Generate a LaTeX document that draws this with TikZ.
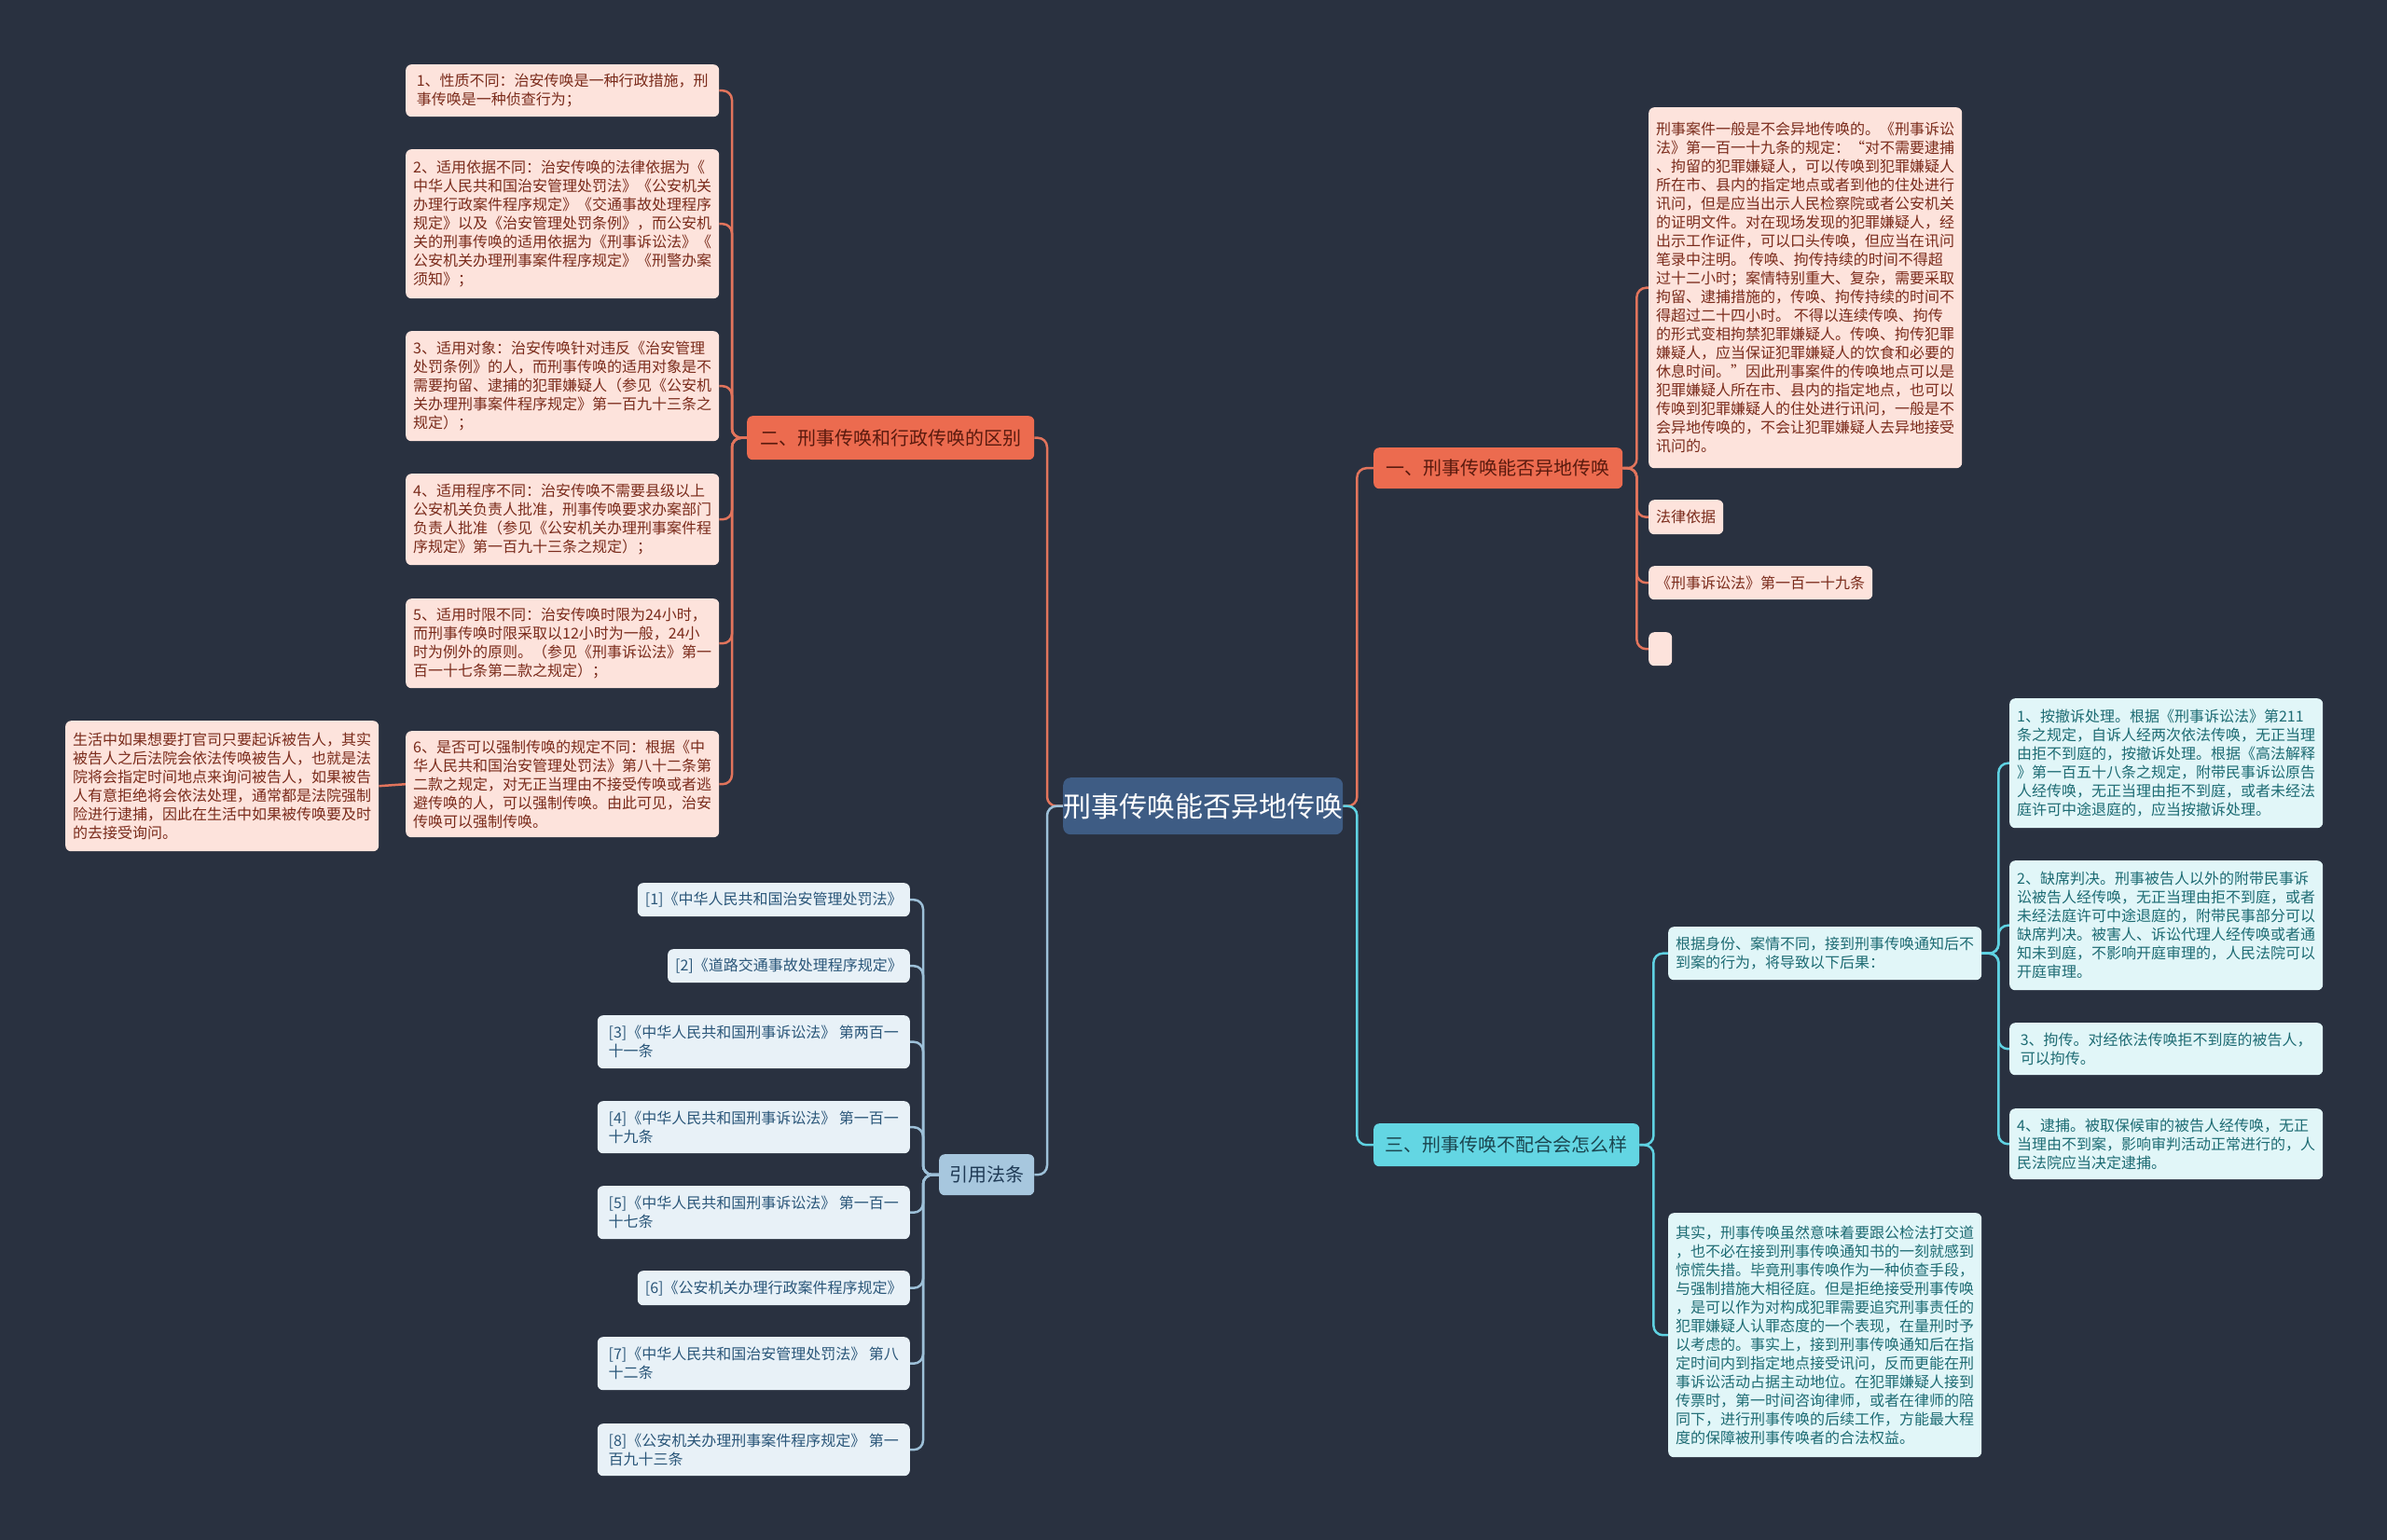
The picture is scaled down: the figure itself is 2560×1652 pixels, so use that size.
\documentclass[tikz,border=0pt]{standalone}
\usepackage{fontspec}
\setmainfont{Noto Sans CJK SC}
\usetikzlibrary{backgrounds}
\definecolor{bg}{HTML}{293140}
\definecolor{orangeB}{HTML}{EC6B4F}
\definecolor{orangeL}{HTML}{E2745C}
\definecolor{pinkF}{HTML}{FDE3DC}
\definecolor{pinkT}{HTML}{7A2B1B}
\definecolor{orangeT}{HTML}{5A1A0E}
\definecolor{cyanB}{HTML}{63D6E3}
\definecolor{cyanL}{HTML}{5FD2E2}
\definecolor{cyanF}{HTML}{E1F6F8}
\definecolor{cyanT}{HTML}{1D6B73}
\definecolor{cyanBT}{HTML}{1B4650}
\definecolor{refB}{HTML}{A7C7DE}
\definecolor{refL}{HTML}{9DC0D8}
\definecolor{refF}{HTML}{E8F1F7}
\definecolor{refT}{HTML}{2A5679}
\definecolor{refBT}{HTML}{1F3A55}
\definecolor{rootF}{HTML}{3E5C84}
\tikzset{
  box/.style={rounded corners=6pt, inner xsep=8pt, inner ysep=0pt, align=left,
    font=\fontsize{16}{20}\selectfont},
  pinkleaf/.style={box, fill=pinkF, text=pinkT},
  cyanleaf/.style={box, fill=cyanF, text=cyanT},
  refleaf/.style={box, fill=refF, text=refT},
  branch/.style={rounded corners=6pt, inner xsep=10pt, inner ysep=0pt,
    font=\fontsize{20}{24}\selectfont},
  rootbox/.style={rounded corners=8pt, fill=rootF, text=white, inner sep=0pt,
    font=\fontsize{30}{34}\selectfont},
  conn/.style={line width=2.5pt, rounded corners=10pt},
  oline/.style={conn, draw=orangeL},
  cline/.style={conn, draw=cyanL},
  rline/.style={conn, draw=refL},
}
\begin{document}
\begin{tikzpicture}[x=1pt,y=-1pt]
\begin{scope}[on background layer]
\fill[bg] (0,0) rectangle (2560,1652);
\end{scope}
\useasboundingbox (0,0) rectangle (2560,1652);

% root
\node[rootbox, anchor=north west, minimum width=300pt, minimum height=61pt] (root) at (1140,834) {刑事传唤能否异地传唤};

% branches
\node[branch, fill=orangeB, text=orangeT, anchor=north west, minimum width=308pt, minimum height=47pt] (b2) at (801,446) {二、刑事传唤和行政传唤的区别};
\node[branch, fill=orangeB, text=orangeT, anchor=north west, minimum width=267pt, minimum height=44pt] (b1) at (1473,480) {一、刑事传唤能否异地传唤};
\node[branch, fill=cyanB, text=cyanBT, anchor=north west, minimum width=285pt, minimum height=46pt] (b3) at (1473,1205) {三、刑事传唤不配合会怎么样};
\node[branch, fill=refB, text=refBT, anchor=north west, minimum width=102pt, minimum height=44pt] (b4) at (1007,1238) {引用法条};

% branch 2 leaves
\node[pinkleaf, anchor=north west, minimum width=336pt, minimum height=56pt] (c1) at (435,69) {1、性质不同：治安传唤是一种行政措施，刑\\事传唤是一种侦查行为；};
\node[pinkleaf, anchor=north west, minimum width=336pt, minimum height=160pt] (c2) at (435,160) {2、适用依据不同：治安传唤的法律依据为《\\中华人民共和国治安管理处罚法》《公安机关\\办理行政案件程序规定》《交通事故处理程序\\规定》以及《治安管理处罚条例》，而公安机\\关的刑事传唤的适用依据为《刑事诉讼法》《\\公安机关办理刑事案件程序规定》《刑警办案\\须知》；};
\node[pinkleaf, anchor=north west, minimum width=336pt, minimum height=118pt] (c3) at (435,355) {3、适用对象：治安传唤针对违反《治安管理\\处罚条例》的人，而刑事传唤的适用对象是不\\需要拘留、逮捕的犯罪嫌疑人（参见《公安机\\关办理刑事案件程序规定》第一百九十三条之\\规定）；};
\node[pinkleaf, anchor=north west, minimum width=336pt, minimum height=98pt] (c4) at (435,508) {4、适用程序不同：治安传唤不需要县级以上\\公安机关负责人批准，刑事传唤要求办案部门\\负责人批准（参见《公安机关办理刑事案件程\\序规定》第一百九十三条之规定）；};
\node[pinkleaf, anchor=north west, minimum width=336pt, minimum height=96pt] (c5) at (435,642) {5、适用时限不同：治安传唤时限为24小时，\\而刑事传唤时限采取以12小时为一般，24小\\时为例外的原则。（参见《刑事诉讼法》第一\\百一十七条第二款之规定）；};
\node[pinkleaf, anchor=north west, minimum width=336pt, minimum height=114pt] (c6) at (435,784) {6、是否可以强制传唤的规定不同：根据《中\\华人民共和国治安管理处罚法》第八十二条第\\二款之规定，对无正当理由不接受传唤或者逃\\避传唤的人，可以强制传唤。由此可见，治安\\传唤可以强制传唤。};
\node[pinkleaf, anchor=north west, minimum width=333pt, minimum height=140pt] (life) at (70,773) {生活中如果想要打官司只要起诉被告人，其实\\被告人之后法院会依法传唤被告人，也就是法\\院将会指定时间地点来询问被告人，如果被告\\人有意拒绝将会依法处理，通常都是法院强制\\险进行逮捕，因此在生活中如果被传唤要及时\\的去接受询问。};

% branch 1 leaves
\node[pinkleaf, anchor=north west, minimum width=336pt, minimum height=387pt] (big) at (1768,115) {刑事案件一般是不会异地传唤的。《刑事诉讼\\法》第一百一十九条的规定：“对不需要逮捕\\、拘留的犯罪嫌疑人，可以传唤到犯罪嫌疑人\\所在市、县内的指定地点或者到他的住处进行\\讯问，但是应当出示人民检察院或者公安机关\\的证明文件。对在现场发现的犯罪嫌疑人，经\\出示工作证件，可以口头传唤，但应当在讯问\\笔录中注明。 传唤、拘传持续的时间不得超\\过十二小时；案情特别重大、复杂，需要采取\\拘留、逮捕措施的，传唤、拘传持续的时间不\\得超过二十四小时。 不得以连续传唤、拘传\\的形式变相拘禁犯罪嫌疑人。传唤、拘传犯罪\\嫌疑人，应当保证犯罪嫌疑人的饮食和必要的\\休息时间。”因此刑事案件的传唤地点可以是\\犯罪嫌疑人所在市、县内的指定地点，也可以\\传唤到犯罪嫌疑人的住处进行讯问，一般是不\\会异地传唤的，不会让犯罪嫌疑人去异地接受\\讯问的。};
\node[pinkleaf, anchor=north west, minimum width=80pt, minimum height=37pt] (law) at (1768,536) {法律依据};
\node[pinkleaf, anchor=north west, minimum width=240pt, minimum height=36pt] (art) at (1768,607) {《刑事诉讼法》第一百一十九条};
\node[pinkleaf, anchor=north west, minimum width=25pt, minimum height=36pt, inner xsep=0pt] (empty) at (1768,678) {};

% branch 3 leaves
\node[cyanleaf, anchor=north west, minimum width=336pt, minimum height=57pt] (basis) at (1789,994) {根据身份、案情不同，接到刑事传唤通知后不\\到案的行为，将导致以下后果：};
\node[cyanleaf, anchor=north west, minimum width=336pt, minimum height=262pt] (actual) at (1789,1301) {其实，刑事传唤虽然意味着要跟公检法打交道\\，也不必在接到刑事传唤通知书的一刻就感到\\惊慌失措。毕竟刑事传唤作为一种侦查手段，\\与强制措施大相径庭。但是拒绝接受刑事传唤\\，是可以作为对构成犯罪需要追究刑事责任的\\犯罪嫌疑人认罪态度的一个表现，在量刑时予\\以考虑的。事实上，接到刑事传唤通知后在指\\定时间内到指定地点接受讯问，反而更能在刑\\事诉讼活动占据主动地位。在犯罪嫌疑人接到\\传票时，第一时间咨询律师，或者在律师的陪\\同下，进行刑事传唤的后续工作，方能最大程\\度的保障被刑事传唤者的合法权益。};
\node[cyanleaf, anchor=north west, minimum width=336pt, minimum height=139pt] (k1) at (2155,749) {1、按撤诉处理。根据《刑事诉讼法》第211\\条之规定，自诉人经两次依法传唤，无正当理\\由拒不到庭的，按撤诉处理。根据《高法解释\\》第一百五十八条之规定，附带民事诉讼原告\\人经传唤，无正当理由拒不到庭，或者未经法\\庭许可中途退庭的，应当按撤诉处理。};
\node[cyanleaf, anchor=north west, minimum width=336pt, minimum height=139pt] (k2) at (2155,923) {2、缺席判决。刑事被告人以外的附带民事诉\\讼被告人经传唤，无正当理由拒不到庭，或者\\未经法庭许可中途退庭的，附带民事部分可以\\缺席判决。被害人、诉讼代理人经传唤或者通\\知未到庭，不影响开庭审理的，人民法院可以\\开庭审理。};
\node[cyanleaf, anchor=north west, minimum width=336pt, minimum height=56pt] (k3) at (2155,1097) {3、拘传。对经依法传唤拒不到庭的被告人，\\可以拘传。};
\node[cyanleaf, anchor=north west, minimum width=336pt, minimum height=76pt] (k4) at (2155,1189) {4、逮捕。被取保候审的被告人经传唤，无正\\当理由不到案，影响审判活动正常进行的，人\\民法院应当决定逮捕。};

% references
\node[refleaf, anchor=north east, minimum width=292pt, minimum height=36pt] (r1) at (976,947) {[1]《中华人民共和国治安管理处罚法》};
\node[refleaf, anchor=north east, minimum width=259pt, minimum height=36pt] (r2) at (976,1018) {[2]《道路交通事故处理程序规定》};
\node[refleaf, anchor=north east, minimum width=335pt, minimum height=57pt] (r3) at (976,1089) {[3]《中华人民共和国刑事诉讼法》 第两百一\\十一条};
\node[refleaf, anchor=north east, minimum width=335pt, minimum height=56pt] (r4) at (976,1181) {[4]《中华人民共和国刑事诉讼法》 第一百一\\十九条};
\node[refleaf, anchor=north east, minimum width=335pt, minimum height=57pt] (r5) at (976,1272) {[5]《中华人民共和国刑事诉讼法》 第一百一\\十七条};
\node[refleaf, anchor=north east, minimum width=292pt, minimum height=37pt] (r6) at (976,1363) {[6]《公安机关办理行政案件程序规定》};
\node[refleaf, anchor=north east, minimum width=335pt, minimum height=57pt] (r7) at (976,1434) {[7]《中华人民共和国治安管理处罚法》 第八\\十二条};
\node[refleaf, anchor=north east, minimum width=335pt, minimum height=56pt] (r8) at (976,1527) {[8]《公安机关办理刑事案件程序规定》 第一\\百九十三条};

% connectors
\begin{scope}[on background layer]
\draw[oline] (root.west) -- ++(-17,0) |- (b2.east);
\draw[rline] (root.west) -- ++(-17,0) |- (b4.east);
\draw[oline] (root.east) -- ++(15,0) |- (b1.west);
\draw[cline] (root.east) -- ++(15,0) |- (b3.west);
\foreach \c in {c1,c2,c3,c4,c5,c6}
  \draw[oline] (b2.west) -- ++(-16,0) |- (\c.east);
\draw[oline] (c6.west) -- (life.east);
\foreach \c in {big,law,art,empty}
  \draw[oline] (b1.east) -- ++(15,0) |- (\c.west);
\foreach \c in {basis,actual}
  \draw[cline] (b3.east) -- ++(15,0) |- (\c.west);
\foreach \c in {k1,k2,k3,k4}
  \draw[cline] (basis.east) -- ++(18,0) |- (\c.west);
\foreach \c in {r1,r2,r3,r4,r5,r6,r7,r8}
  \draw[rline] (b4.west) -- ++(-17,0) |- (\c.east);
\end{scope}
\end{tikzpicture}
\end{document}
